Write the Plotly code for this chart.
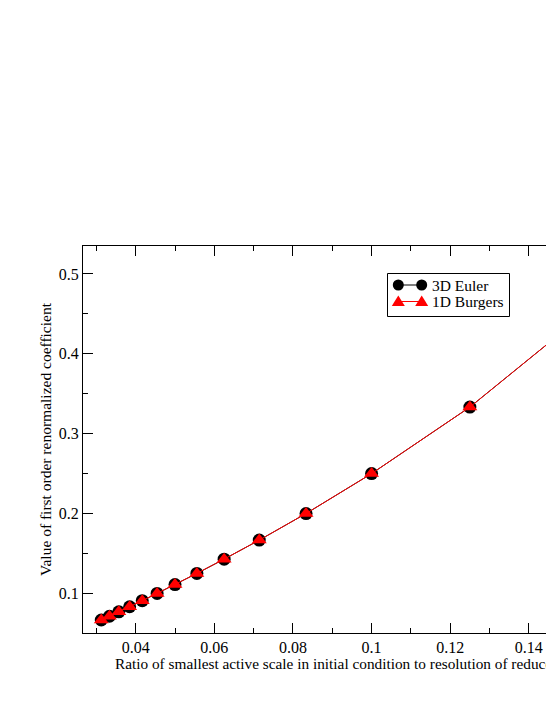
import plotly.graph_objects as go

ratio = [0.03125, 0.03333, 0.03571, 0.03846, 0.04167, 0.04545, 0.05, 0.05556,
         0.0625, 0.07143, 0.08333, 0.1, 0.125, 0.16667]
euler = [0.0667, 0.0714, 0.0769, 0.0833, 0.0909, 0.1, 0.1111, 0.125,
         0.1429, 0.1667, 0.2, 0.25, 0.3333, 0.5]
burgers = [0.0667, 0.0714, 0.0769, 0.0833, 0.0909, 0.1, 0.1111, 0.125,
           0.1429, 0.1667, 0.2, 0.25, 0.3333, 0.5]
series_names = ["3D Euler", "1D Burgers"]

FONT = "Liberation Serif"

fig = go.Figure()
fig.add_trace(go.Scatter(x=ratio, y=euler, name=series_names[0], mode="lines+markers",
                         line=dict(color="black", width=1),
                         marker=dict(symbol="circle", size=13, color="black")))
fig.add_trace(go.Scatter(x=ratio, y=burgers, name=series_names[1], mode="lines+markers",
                         line=dict(color="red", width=1),
                         marker=dict(symbol="triangle-up", size=13, color="red")))

axis_common = dict(showline=True, linecolor="black", linewidth=1, ticks="inside",
                   ticklen=10, tickwidth=1, tickcolor="black", showgrid=False,
                   zeroline=False, tickfont=dict(family=FONT, size=16, color="black"))

fig.update_xaxes(range=[0.0266, 0.1464], dtick=0.02, tick0=0, mirror="ticks",
                 minor=dict(dtick=0.01, tick0=0, ticks="inside", ticklen=5,
                            tickcolor="black", showgrid=False),
                 **axis_common)
fig.update_yaxes(range=[0.0504, 0.535], dtick=0.1, tick0=0, mirror=False,
                 minor=dict(dtick=0.05, tick0=0, ticks="inside", ticklen=5,
                            tickcolor="black", showgrid=False),
                 title=dict(text="Value of first order renormalized coefficient",
                            font=dict(family=FONT, size=15.5, color="black"), standoff=3),
                 **axis_common)

# plot area in window pixels: x 83..554, y 246..633 (page offset 8px)
def px(wx):
    return (wx - 83) / 471.0

def py(wy):
    return (633 - wy) / 387.0

shapes = []
annotations = []

# x-axis title (plot extends beyond the visible window, so title is anchored left)
annotations.append(dict(x=px(113), y=py(663), xref="paper", yref="paper",
                        xanchor="left", yanchor="middle", showarrow=False,
                        text="Ratio of smallest active scale in initial condition to resolution of reduced model",
                        font=dict(family=FONT, size=15.3, color="black")))

# custom legend
shapes.append(dict(type="rect", xref="paper", yref="paper",
                   x0=px(387.5), x1=px(509.5), y0=py(316.5), y1=py(273.5),
                   line=dict(color="black", width=1), fillcolor="white", layer="above"))
rows = [(285, "black", "circle"), (301.5, "red", "triangle")]
for (ry, col, kind), name in zip(rows, series_names):
    shapes.append(dict(type="line", xref="paper", yref="paper",
                       x0=px(398.3), x1=px(421.7), y0=py(ry), y1=py(ry),
                       line=dict(color=col, width=1), layer="above"))
    for cx in (398.3, 421.7):
        if kind == "circle":
            r = 5.5
            shapes.append(dict(type="circle", xref="paper", yref="paper",
                               x0=px(cx - r), x1=px(cx + r), y0=py(ry + r), y1=py(ry - r),
                               fillcolor=col, line=dict(color=col, width=0), layer="above"))
        else:
            path = "M {} {} L {} {} L {} {} Z".format(
                px(cx - 6.5), py(ry + 4.5), px(cx + 6.5), py(ry + 4.5), px(cx), py(ry - 6))
            shapes.append(dict(type="path", xref="paper", yref="paper", path=path,
                               fillcolor=col, line=dict(color=col, width=0), layer="above"))
    annotations.append(dict(x=px(430), y=py(ry), xref="paper", yref="paper",
                            xanchor="left", yanchor="middle", showarrow=False,
                            text=name, font=dict(family=FONT, size=15.5, color="black")))

fig.update_layout(width=546, height=685, margin=dict(l=75, r=0, t=238, b=60),
                  plot_bgcolor="white", paper_bgcolor="white",
                  showlegend=False, shapes=shapes, annotations=annotations)

fig.write_html("out.html")
